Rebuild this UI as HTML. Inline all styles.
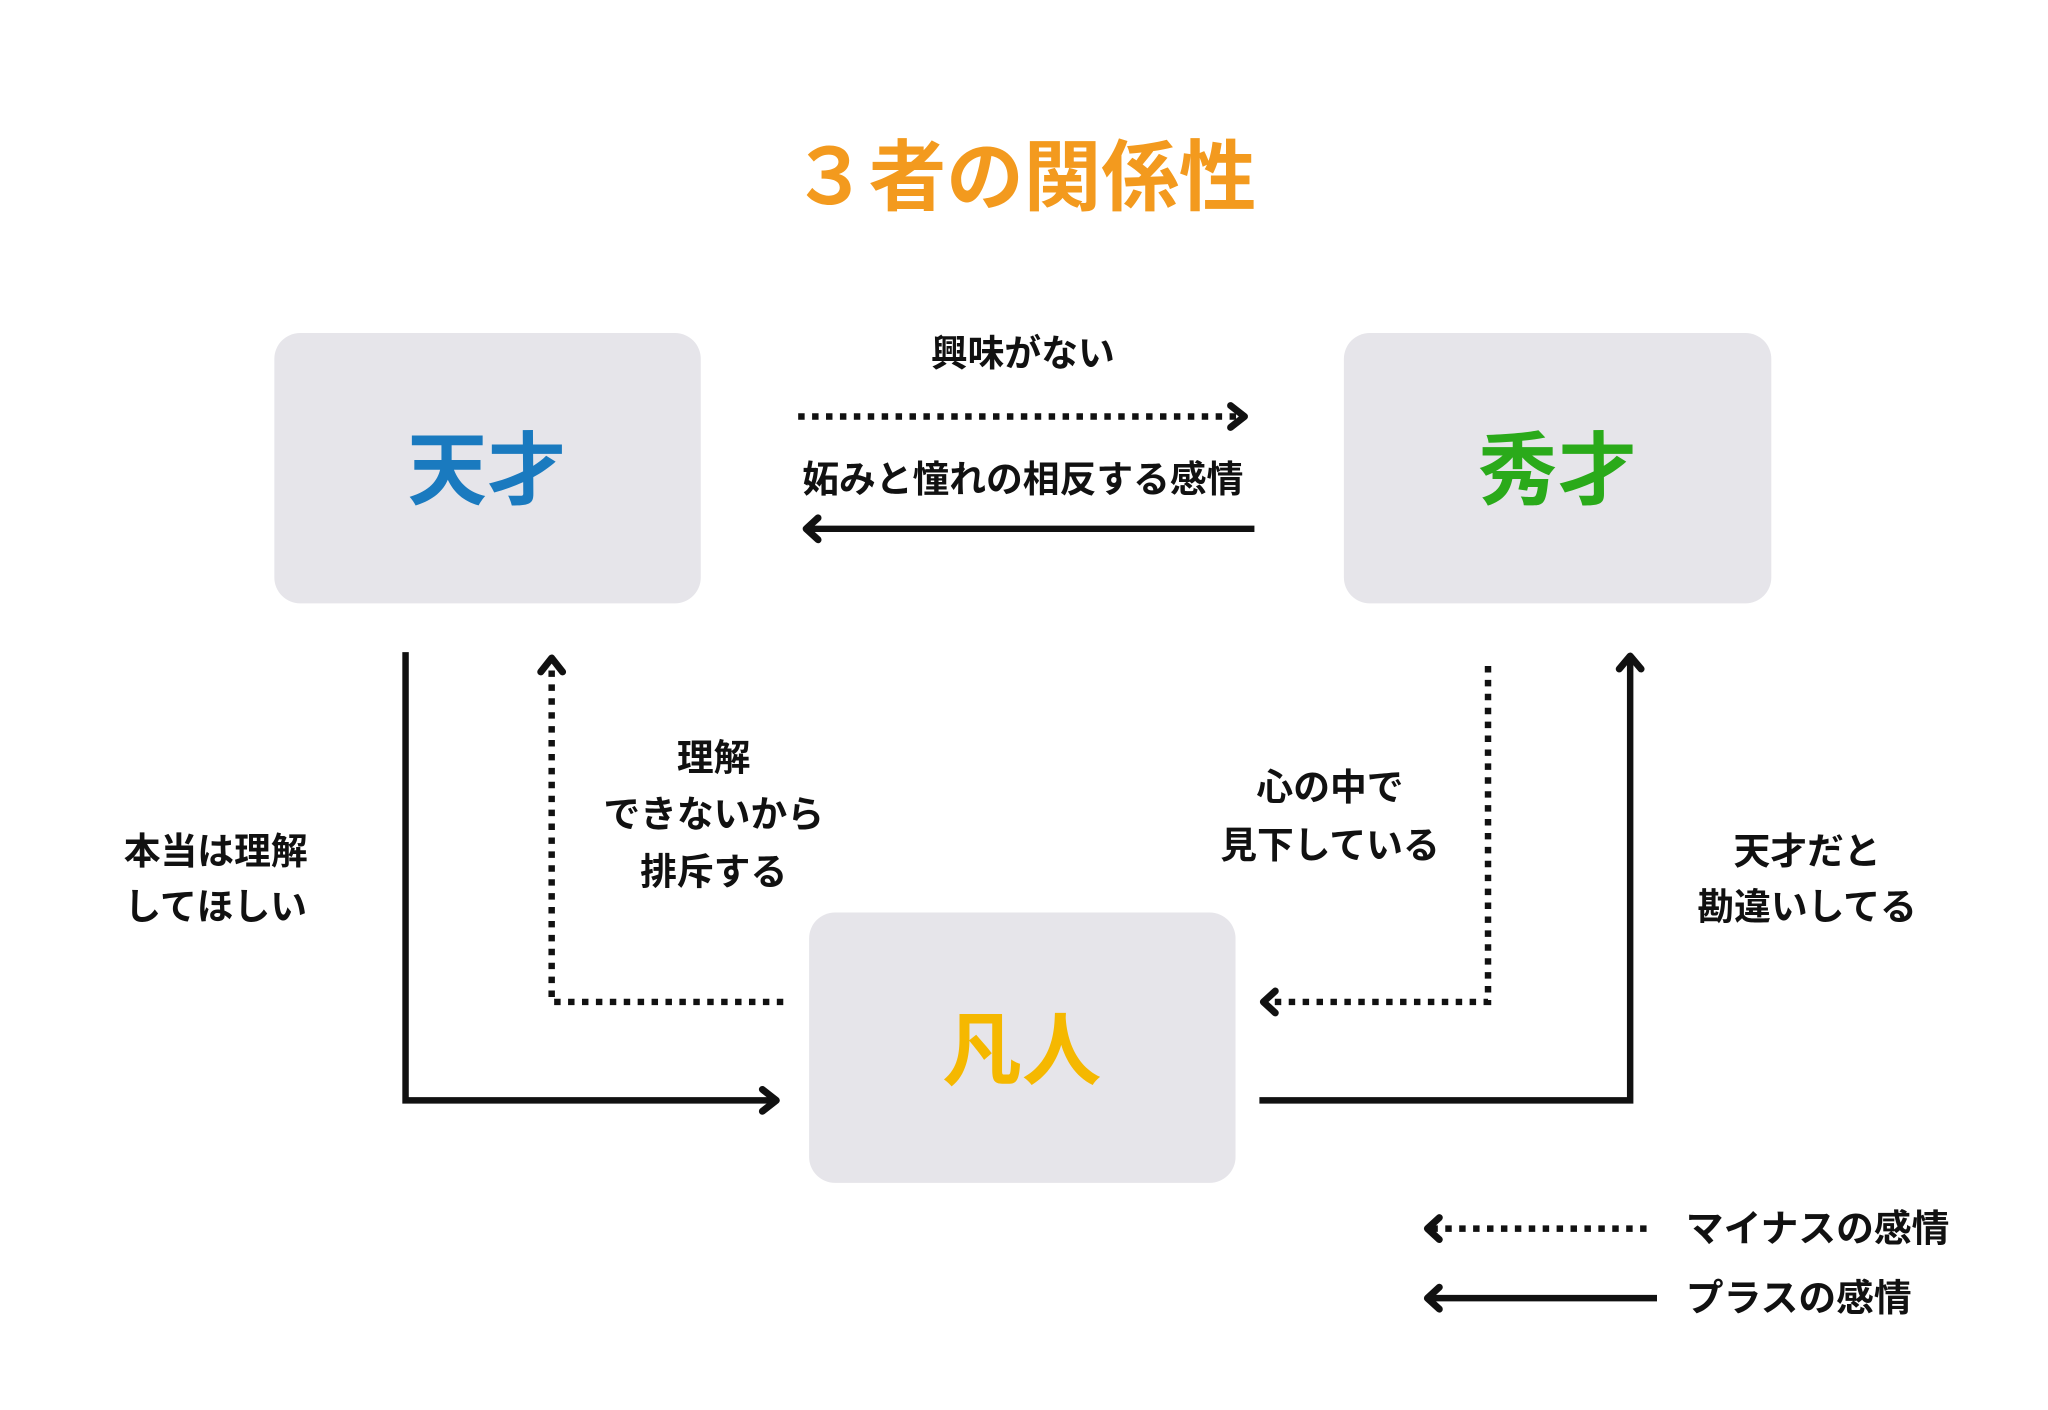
<!DOCTYPE html>
<html><head><meta charset="utf-8"><style>
html,body{margin:0;padding:0;background:#fff;}
svg{display:block;}
text{font-family:"Liberation Sans","Noto Sans CJK JP",sans-serif;font-weight:bold;}
</style></head><body>
<svg width="2048" height="1410" viewBox="0 0 2048 1410" xmlns="http://www.w3.org/2000/svg">
<g transform="scale(0.994)">
<text x="1030" y="205" font-size="78" fill="#f39a1e" text-anchor="middle" font-family="'Noto Serif CJK SC',serif">３者の関係性</text>
<rect x="276" y="335" width="429" height="272" rx="26" fill="#e6e5ea"/>
<rect x="1352" y="335" width="430" height="272" rx="26" fill="#e6e5ea"/>
<rect x="814" y="918" width="429" height="272" rx="26" fill="#e6e5ea"/>
<text x="490" y="501" font-size="80" fill="#1a7abf" text-anchor="middle">天才</text>
<text x="1567" y="501" font-size="80" fill="#2aaa1a" text-anchor="middle">秀才</text>
<text x="1028" y="1085" font-size="80" fill="#f5b800" text-anchor="middle">凡人</text>
<g font-size="37" fill="#111" text-anchor="middle">
<text x="1029" y="368">興味がない</text>
<text x="1029" y="495">妬みと憧れの相反する感情</text>
<text x="718" y="775">理解</text>
<text x="718" y="832">できないから</text>
<text x="718" y="890">排斥する</text>
<text x="217" y="869">本当は理解</text>
<text x="217" y="925">してほしい</text>
<text x="1338" y="805">心の中で</text>
<text x="1338" y="863">見下している</text>
<text x="1818" y="869">天才だと</text>
<text x="1818" y="925">勘違いしてる</text>
</g>
<g font-size="38" fill="#111">
<text x="1696" y="1249">マイナスの感情</text>
<text x="1696" y="1319">プラスの感情</text>
</g>
<g stroke="#111" stroke-width="6.5" fill="none">
<g stroke-dasharray="6.5 7.5">
<line x1="803" y1="419" x2="1248" y2="419"/>
<path d="M788 1008 H555 V668"/>
<path d="M1497 670 V1008 H1275"/>
<line x1="1440" y1="1236" x2="1661" y2="1236"/>
</g>
<line x1="811" y1="532" x2="1262" y2="532"/>
<path d="M408 656 V1107 H778"/>
<path d="M1267 1107 H1640 V665"/>
<line x1="1440" y1="1306" x2="1667" y2="1306"/>
<g stroke-linecap="round" stroke-linejoin="round" stroke-width="7">
<path d="M1238 408 L1252 419 L1238 430"/>
<path d="M823 521 L811 532 L823 543"/>
<path d="M544 676 L555 662 L566 676"/>
<path d="M767 1096 L781 1107 L767 1118"/>
<path d="M1283 997 L1271 1008 L1283 1019"/>
<path d="M1629 673 L1640 660 L1651 673"/>
<path d="M1448 1225 L1436 1236 L1448 1247"/>
<path d="M1448 1295 L1436 1306 L1448 1317"/>
</g>
</g>
</g>
</svg>
</body></html>
